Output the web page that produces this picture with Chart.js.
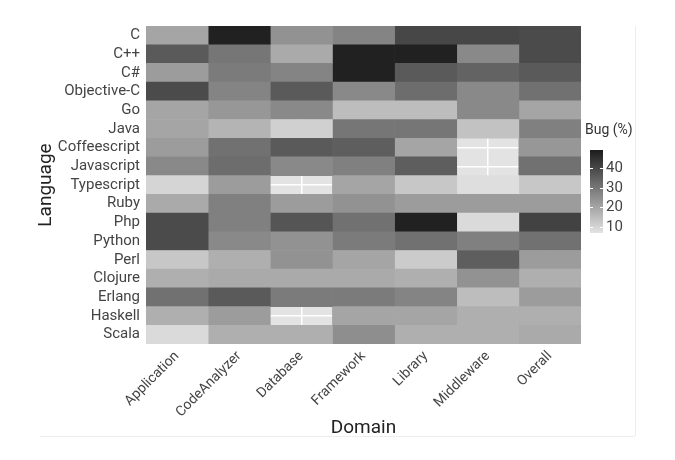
<!DOCTYPE html>
<html>
<head>
<meta charset="utf-8">
<script src="https://cdn.jsdelivr.net/npm/chart.js@4/dist/chart.umd.min.js"></script>
<style>
  html, body { margin: 0; padding: 0; background: #fff; }
  #wrap { position: relative; width: 675px; height: 460px; }
  #card { position: absolute; left: 40px; top: 26px; width: 595px; height: 410px;
          border-right: 1px solid #ededed; border-bottom: 1px solid #ededed; border-bottom-right-radius: 3px; }
  canvas { position: absolute; left: 0; top: 0; }
</style>
</head>
<body>
<div id="wrap">
  <div id="card"></div>
  <canvas id="c" width="675" height="460"></canvas>
</div>
<script>
// ---- data ----
const languages = ['C','C++','C#','Objective-C','Go','Java','Coffeescript','Javascript','Typescript',
                   'Ruby','Php','Python','Perl','Clojure','Erlang','Haskell','Scala'];
const domains = ['Application','CodeAnalyzer','Database','Framework','Library','Middleware','Overall'];

// Bug (%) per language, one array per domain (null = no data)
const application  = [20, 36, 22, 39, 20, 20, 22, 26, 10, 19, 39, 39, 13, 18, 31, 18, 9];
const codeAnalyzer = [48, 30, 29, 27, 23, 17, 31, 32, 22, 28, 28, 26, 18, 19, 36, 22, 18];
const database     = [24, 19, 27, 36, 26, 11, 36, 26, null, 22, 37, 24, 24, 19, 29, null, 18];
const framework    = [27, 48, 48, 26, 15, 30, 35, 28, 20, 24, 31, 29, 20, 19, 29, 20, 25];
const library      = [40, 48, 36, 32, 15, 30, 20, 35, 13, 22, 48, 31, 12, 18, 27, 20, 18];
const middleware   = [40, 26, 34, 26, 26, 14, null, null, 8, 22, 9, 28, 35, 24, 15, 18, 18];
const overall      = [39, 39, 36, 31, 20, 28, 23, 31, 13, 22, 41, 31, 22, 18, 22, 18, 19];
const domainValues = [application, codeAnalyzer, database, framework, library, middleware, overall];

const legendTitle = 'Bug (%)';
const legendTicks = [10, 20, 30, 40];
const scaleMin = 7, scaleMax = 49;

// ---- colour scale ----
function grayFor(v) {
  const t = Math.max(0, Math.min(1, (v - scaleMin) / (scaleMax - scaleMin)));
  const g = Math.round(227 - t * 199);
  return `rgb(${g},${g},${g})`;
}

const datasets = domains.map((d, j) => ({
  label: d,
  data: domainValues[j].map(v => v == null ? null : [j, j + 1]),
  backgroundColor: domainValues[j].map(v => v == null ? 'rgba(0,0,0,0)' : grayFor(v)),
  borderWidth: 0,
  barPercentage: 1,
  categoryPercentage: 1,
  grouped: false
}));

const FONT = 'Roboto, "Noto Sans", sans-serif';

const panelBg = {
  id: 'panelBg',
  beforeDraw(chart) {
    const { ctx, chartArea: a } = chart;
    ctx.save();
    ctx.fillStyle = '#e3e3e3';
    ctx.fillRect(a.left, a.top, a.right - a.left, a.bottom - a.top);
    ctx.restore();
  }
};

const colorBar = {
  id: 'colorBar',
  afterDraw(chart) {
    const { ctx, chartArea: a } = chart;
    const x = a.right + 9, y = 150, w = 13, h = 83;
    ctx.save();
    ctx.fillStyle = '#333';
    ctx.font = `14px ${FONT}`;
    ctx.textAlign = 'left';
    ctx.textBaseline = 'middle';
    ctx.fillText(legendTitle, a.right + 4, 130);
    const grad = ctx.createLinearGradient(0, y + h, 0, y);
    for (let k = 0; k <= 10; k++) {
      const v = scaleMin + (scaleMax - scaleMin) * k / 10;
      grad.addColorStop(k / 10, grayFor(v));
    }
    ctx.fillStyle = grad;
    ctx.fillRect(x, y, w, h);
    ctx.strokeStyle = '#fff';
    ctx.lineWidth = 1;
    ctx.fillStyle = '#444';
    ctx.font = `15px ${FONT}`;
    legendTicks.forEach(t => {
      const ty = Math.round(y + h - (t - scaleMin) / (scaleMax - scaleMin) * h) + 0.5;
      ctx.beginPath();
      ctx.moveTo(x, ty); ctx.lineTo(x + 3, ty);
      ctx.moveTo(x + w - 3, ty); ctx.lineTo(x + w, ty);
      ctx.stroke();
      ctx.fillText(String(t), x + w + 3, ty);
    });
    ctx.restore();
  }
};

new Chart(document.getElementById('c'), {
  type: 'bar',
  data: { labels: languages, datasets },
  options: {
    responsive: false,
    animation: false,
    indexAxis: 'y',
    layout: { padding: { top: 26, right: 94, bottom: 20, left: 35 } },
    plugins: { legend: { display: false }, tooltip: { enabled: false } },
    scales: {
      x: {
        type: 'linear',
        min: 0, max: domains.length,
        afterBuildTicks: s => { s.ticks = domains.map((d, i) => ({ value: i + 0.5 })); },
        afterFit: s => { s.height = 96; },
        grid: { color: '#ffffff', lineWidth: 1.5, drawTicks: false },
        border: { display: false },
        ticks: {
          autoSkip: false, minRotation: 45, maxRotation: 45, padding: 4,
          color: '#444', font: { family: FONT, size: 14 },
          callback: v => domains[Math.round(v - 0.5)]
        },
        title: { display: true, text: 'Domain', color: '#222', font: { family: FONT, size: 19 }, padding: { top: 0, bottom: 0 } }
      },
      y: {
        type: 'category',
        offset: true,
        afterFit: s => { s.width = 111; },
        grid: { color: '#ffffff', lineWidth: 1.5, offset: false, drawTicks: false },
        border: { display: false },
        ticks: { color: '#444', font: { family: FONT, size: 15 }, padding: 6, autoSkip: false },
        title: { display: true, text: 'Language', color: '#222', font: { family: FONT, size: 19 }, padding: { top: 0, bottom: 2 } }
      }
    }
  },
  plugins: [panelBg, colorBar]
});
</script>
</body>
</html>
